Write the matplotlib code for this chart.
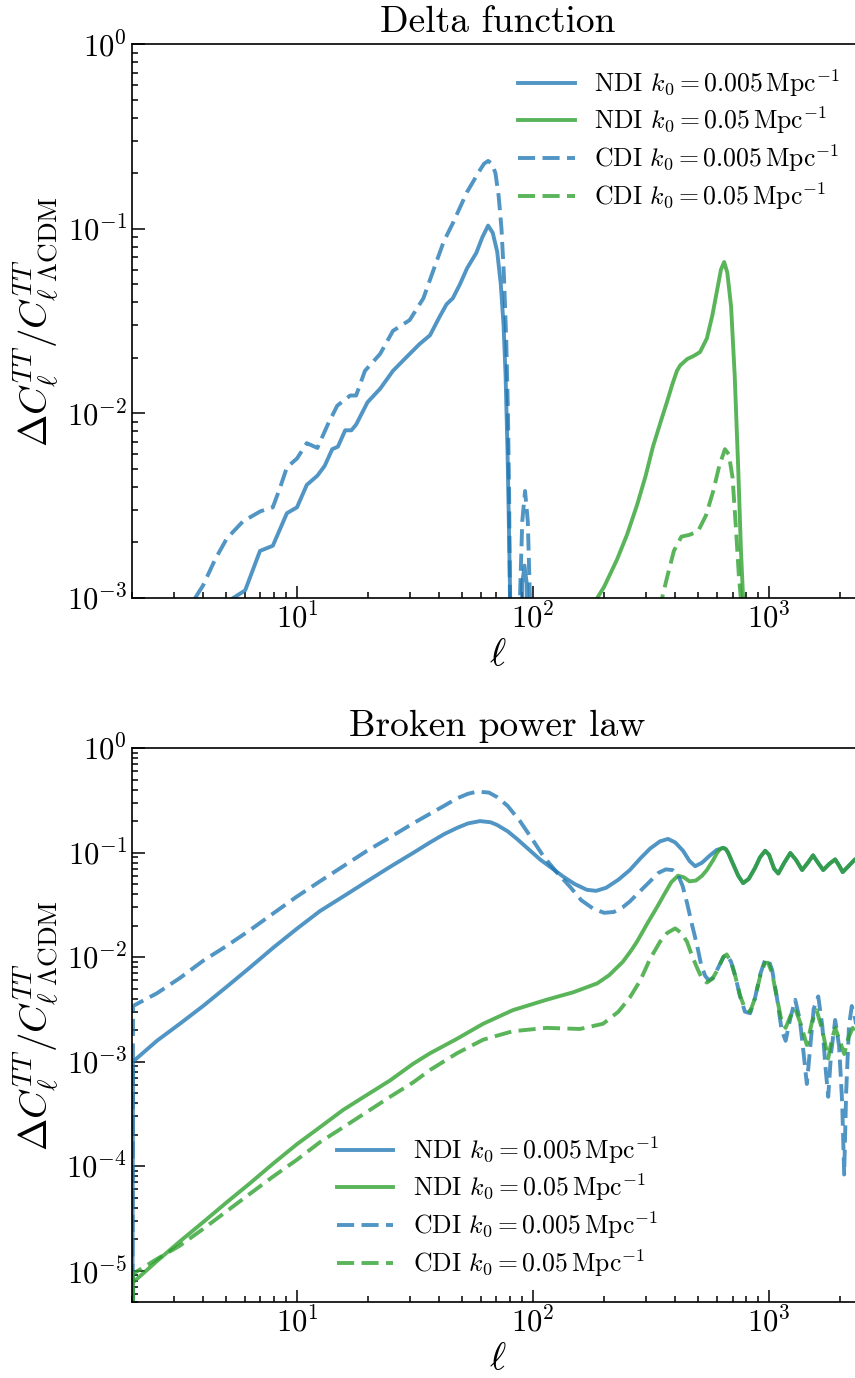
import matplotlib
matplotlib.use("Agg")
import matplotlib.pyplot as plt
import numpy as np

plt.rcParams['font.family'] = 'serif'
plt.rcParams['font.serif'] = ['cmr10']
plt.rcParams['mathtext.fontset'] = 'cm'
plt.rcParams['axes.formatter.use_mathtext'] = True

BLUE = '#1f77b4'
GREEN = '#2ca02c'

# ---- Delta function ----
# NDI k0 = 0.005
d_ndi1_l = [5.36, 6.03, 6.97, 7.9, 9.06, 10, 11, 12.2, 13.1, 14.1, 14.9, 16, 17, 17.8,
            19.9, 22.5, 25.5, 28.9, 33, 36.6, 40, 43, 45.7, 49, 52.5, 57.5, 61, 64.5,
            67.5, 70.5, 73, 75, 76.5, 78, 79, 80, 82, 88, 90, 92, 94, 97, 100]
d_ndi1_v = [1.0e-3, 1.1e-3, 1.8e-3, 1.92e-3, 2.88e-3, 3.1e-3, 4.1e-3, 4.6e-3, 5.2e-3,
            6.4e-3, 6.6e-3, 8.1e-3, 8.1e-3, 8.7e-3, 1.15e-2, 1.36e-2, 1.7e-2, 2.0e-2,
            2.37e-2, 2.65e-2, 3.3e-2, 3.9e-2, 4.2e-2, 5.0e-2, 6.1e-2, 7.4e-2, 9.0e-2,
            1.04e-1, 9.5e-2, 7.5e-2, 5.0e-2, 3.0e-2, 1.6e-2, 6.0e-3, 2.5e-3, 1.0e-3,
            1e-5, 1e-5, 1.2e-3, 1.5e-3, 1.2e-3, 1e-5, 1e-5]
# CDI k0 = 0.005
d_cdi1_l = [3.7, 4.0, 4.5, 5.04, 5.9, 7.0, 7.9, 8.5, 9.06, 10, 11, 12.2, 13.5, 14.8, 16.8,
            17.8, 19.4, 22.5, 25.5, 30, 34.3, 36.6, 41.8, 45.7, 52.5, 59.6, 62, 64.5,
            67, 69.3, 71.5, 73.5, 75.3, 77, 78.3, 79.2, 79.8, 82, 86, 88, 90, 92.5, 95,
            97, 100]
d_cdi1_v = [1.0e-3, 1.17e-3, 1.62e-3, 2.1e-3, 2.6e-3, 2.95e-3, 3.1e-3, 4.0e-3, 5.1e-3,
            5.7e-3, 6.9e-3, 6.5e-3, 8.7e-3, 1.1e-2, 1.25e-2, 1.25e-2, 1.7e-2, 2.1e-2,
            2.8e-2, 3.2e-2, 4.2e-2, 5.3e-2, 8.5e-2, 1.07e-1, 1.58e-1, 2.08e-1, 2.25e-1,
            2.33e-1, 2.25e-1, 2.0e-1, 1.5e-1, 1.0e-1, 5.5e-2, 2.5e-2, 1.0e-2, 3.5e-3,
            1.0e-3, 1e-5, 1e-5, 1.0e-3, 2.6e-3, 3.8e-3, 2.6e-3, 1.0e-3, 1e-5]
# NDI k0 = 0.05
d_ndi2_l = [150, 187, 200, 227, 250, 276, 300, 322, 350, 369, 390, 407, 420, 450, 480,
            510, 545, 575, 605, 625, 645, 665, 690, 715, 740, 760, 776, 800]
d_ndi2_v = [1e-4, 1.0e-3, 1.15e-3, 1.62e-3, 2.2e-3, 3.2e-3, 4.6e-3, 6.6e-3, 9.3e-3,
            1.15e-2, 1.45e-2, 1.7e-2, 1.82e-2, 1.97e-2, 2.05e-2, 2.15e-2, 2.55e-2,
            3.4e-2, 4.8e-2, 6.0e-2, 6.6e-2, 5.8e-2, 3.8e-2, 1.6e-2, 5.0e-3, 1.8e-3,
            1.0e-3, 1e-5]
# CDI k0 = 0.05
d_cdi2_l = [320, 352, 370, 395, 425, 460, 500, 540, 580, 615, 650, 675, 700, 725, 745,
            759, 780]
d_cdi2_v = [1e-4, 1.0e-3, 1.3e-3, 1.8e-3, 2.15e-3, 2.2e-3, 2.3e-3, 2.8e-3, 3.8e-3,
            5.2e-3, 6.4e-3, 6.0e-3, 4.5e-3, 2.3e-3, 1.3e-3, 1.0e-3, 1e-5]

# ---- Broken power law ----
# high-l acoustic tail shared by both NDI curves
tail_l = [620, 638, 655, 670, 703, 740, 776, 820, 871, 915, 962, 1000, 1050, 1094, 1160,
          1230, 1300, 1380, 1460, 1535, 1610, 1695, 1800, 1905, 1980, 2050, 2180, 2310,
          2400, 2500]
tail_v = [0.108, 0.111, 0.108, 0.100, 0.078, 0.060, 0.051, 0.056, 0.071, 0.090, 0.104,
          0.095, 0.070, 0.063, 0.080, 0.099, 0.085, 0.068, 0.080, 0.094, 0.080, 0.068,
          0.078, 0.086, 0.075, 0.065, 0.075, 0.086, 0.080, 0.073]

b_ndi1_l = [2.0, 2.02, 2.55, 3.19, 4.0, 5.04, 6.3, 7.9, 10, 12.5, 15.7, 19.8, 24.8, 31,
            36.6, 42, 47.6, 53, 59.6, 66, 70.3, 78, 85.5, 107, 134, 150, 169, 185, 204,
            230, 257, 285, 313, 345, 373, 400, 432, 460, 486, 520, 562, 600] + tail_l
b_ndi1_v = [1e-7, 1.0e-3, 1.58e-3, 2.3e-3, 3.4e-3, 5.2e-3, 7.9e-3, 1.22e-2, 1.87e-2,
            2.75e-2, 3.8e-2, 5.3e-2, 7.3e-2, 9.9e-2, 0.125, 0.15, 0.172, 0.19, 0.20,
            0.195, 0.184, 0.16, 0.135, 0.086, 0.059, 0.050, 0.044, 0.043, 0.046, 0.055,
            0.068, 0.088, 0.109, 0.128, 0.135, 0.125, 0.104, 0.083, 0.074, 0.080,
            0.094, 0.106] + tail_v

b_ndi2_l = [2.0, 2.02, 2.55, 3.19, 4.0, 5.04, 6.3, 7.9, 10, 12.5, 15.7, 19.8, 24.8, 31,
            36.6, 47.6, 61.5, 82, 114, 148, 187, 210, 240, 260, 276, 305, 335, 360, 385,
            411, 435, 460, 490, 520, 545, 580, 600] + tail_l
b_ndi2_v = [1e-7, 7.7e-6, 1.23e-5, 1.9e-5, 2.9e-5, 4.5e-5, 6.8e-5, 1.05e-4, 1.62e-4,
            2.35e-4, 3.45e-4, 4.8e-4, 6.6e-4, 9.5e-4, 1.2e-3, 1.65e-3, 2.3e-3, 3.1e-3,
            3.9e-3, 4.6e-3, 5.6e-3, 6.7e-3, 9.0e-3, 1.15e-2, 1.41e-2, 2.1e-2, 3.0e-2,
            4.0e-2, 5.2e-2, 0.060, 0.058, 0.053, 0.054, 0.060, 0.068, 0.085,
            0.098] + tail_v

b_cdi1_l = [2.0, 2.02, 2.55, 3.19, 4.0, 5.04, 6.3, 7.9, 10, 12.5, 15.7, 19.8, 24.8, 31,
            36.6, 42, 47.6, 53, 58, 65, 70.3, 78, 88, 98, 110, 125, 143.5, 160, 180, 200,
            220, 240, 257, 285, 313, 340, 365, 390, 410, 430, 449, 470, 495, 515, 536,
            555, 579, 610, 640, 661, 690, 720, 753, 790, 831, 870, 920, 960, 991, 1030,
            1081, 1130, 1175, 1230, 1290, 1350, 1400, 1445, 1490, 1545, 1615, 1680, 1740,
            1780, 1830, 1905, 1980, 2040, 2080, 2120, 2180, 2240, 2320, 2400, 2460, 2500]
b_cdi1_v = [1e-7, 3.4e-3, 4.5e-3, 6.3e-3, 9.2e-3, 1.28e-2, 1.8e-2, 2.6e-2, 3.8e-2,
            5.3e-2, 7.4e-2, 0.104, 0.14, 0.19, 0.235, 0.28, 0.33, 0.365, 0.383, 0.375,
            0.34, 0.28, 0.20, 0.14, 0.094, 0.066, 0.047, 0.035, 0.029, 0.0265, 0.027,
            0.030, 0.034, 0.043, 0.053, 0.064, 0.069, 0.068, 0.062, 0.048, 0.033, 0.021,
            0.013, 8.5e-3, 6.6e-3, 6.0e-3, 6.3e-3, 8.0e-3, 1.0e-2, 1.06e-2, 9.0e-3,
            6.5e-3, 4.2e-3, 3.0e-3, 2.9e-3, 4.0e-3, 7.0e-3, 9.3e-3, 9.6e-3, 7.5e-3,
            4.0e-3, 2.0e-3, 1.58e-3, 2.6e-3, 3.9e-3, 2.5e-3, 1.2e-3, 6.1e-4, 1.3e-3,
            3.2e-3, 4.2e-3, 2.2e-3, 8.0e-4, 4.6e-4, 1.2e-3, 2.5e-3, 1.4e-3, 4.0e-4,
            8.3e-5, 5.0e-4, 2.2e-3, 3.4e-3, 2.5e-3, 1.5e-3, 2.0e-3, 2.8e-3]

b_cdi2_l = [2.0, 2.02, 2.55, 3.19, 4.0, 5.04, 6.3, 7.9, 10, 12.5, 15.7, 19.8, 24.8, 31,
            36.6, 47.6, 61.5, 82, 114, 158, 198, 230, 257, 285, 313, 345, 370, 400, 425,
            449, 470, 495, 520, 545, 575, 604, 640, 661, 690, 720, 753, 790, 831, 870,
            920, 960, 991, 1030, 1081, 1130, 1175, 1230, 1290, 1360, 1445, 1520, 1590,
            1680, 1780, 1840, 1905, 1990, 2080, 2170, 2260, 2380, 2500]
b_cdi2_v = [1e-7, 9.3e-6, 1.29e-5, 1.73e-5, 2.5e-5, 3.7e-5, 5.4e-5, 7.9e-5, 1.15e-4,
            1.69e-4, 2.35e-4, 3.3e-4, 4.6e-4, 6.3e-4, 8.3e-4, 1.2e-3, 1.62e-3, 1.95e-3,
            2.1e-3, 2.05e-3, 2.3e-3, 3.0e-3, 4.1e-3, 6.0e-3, 9.6e-3, 1.4e-2, 1.7e-2,
            1.88e-2, 1.7e-2, 1.4e-2, 1.05e-2, 7.9e-3, 6.2e-3, 5.7e-3, 6.2e-3, 7.5e-3,
            1.0e-2, 1.06e-2, 9.0e-3, 6.5e-3, 4.3e-3, 3.2e-3, 3.0e-3, 4.0e-3, 6.8e-3,
            8.8e-3, 8.8e-3, 7.0e-3, 4.0e-3, 2.4e-3, 2.1e-3, 2.7e-3, 3.2e-3, 2.3e-3,
            1.44e-3, 2.4e-3, 3.1e-3, 2.0e-3, 1.07e-3, 1.6e-3, 2.1e-3, 1.6e-3, 1.18e-3,
            1.7e-3, 2.1e-3, 1.6e-3, 2.0e-3]

labels = [r'NDI $k_0 = 0.005\,\mathrm{Mpc}^{-1}$',
          r'NDI $k_0 = 0.05\,\mathrm{Mpc}^{-1}$',
          r'CDI $k_0 = 0.005\,\mathrm{Mpc}^{-1}$',
          r'CDI $k_0 = 0.05\,\mathrm{Mpc}^{-1}$']

LW = 2.8
ALPHA = 0.78
DASH = (4.4, 1.9)


def draw_panel(ax, curves, title, ylim, legend_loc):
    for (l, v, col, dashed), lab in zip(curves, labels):
        ln, = ax.plot(l, v, color=col, lw=LW, alpha=ALPHA, label=lab)
        if dashed:
            ln.set_dashes(DASH)
    ax.set_xscale('log')
    ax.set_yscale('log')
    ax.set_xlim(2, 2500)
    ax.set_ylim(*ylim)
    ax.set_title(title, fontsize=27, pad=9)
    ax.set_xlabel(r'$\ell$', fontsize=28, labelpad=2)
    ax.set_ylabel(r'$\Delta C_\ell^{TT}/C_{\ell\ \Lambda\mathrm{CDM}}^{TT}$', fontsize=28,
                  labelpad=4)
    ax.tick_params(which='both', direction='in', top=False, right=False, labelsize=22,
                   width=1.1)
    ax.tick_params(which='major', length=9)
    ax.tick_params(which='minor', length=4.5)
    for sp in ax.spines.values():
        sp.set_linewidth(1.2)
    ax.legend(loc=legend_loc, frameon=False, fontsize=18.5, handlelength=2.2,
              handletextpad=0.75, labelspacing=0.25)


fig = plt.figure(figsize=(8.55, 13.78), dpi=100)
ax1 = fig.add_axes([0.1544, 0.5660, 0.855, 0.4020])
ax2 = fig.add_axes([0.1544, 0.05515, 0.855, 0.4020])

draw_panel(ax1, [(d_ndi1_l, d_ndi1_v, BLUE, False),
                 (d_ndi2_l, d_ndi2_v, GREEN, False),
                 (d_cdi1_l, d_cdi1_v, BLUE, True),
                 (d_cdi2_l, d_cdi2_v, GREEN, True)],
           'Delta function', (1e-3, 1), 'upper right')

draw_panel(ax2, [(b_ndi1_l, b_ndi1_v, BLUE, False),
                 (b_ndi2_l, b_ndi2_v, GREEN, False),
                 (b_cdi1_l, b_cdi1_v, BLUE, True),
                 (b_cdi2_l, b_cdi2_v, GREEN, True)],
           'Broken power law', (5e-6, 1), 'lower center')

fig.savefig('out.png', dpi=100)
